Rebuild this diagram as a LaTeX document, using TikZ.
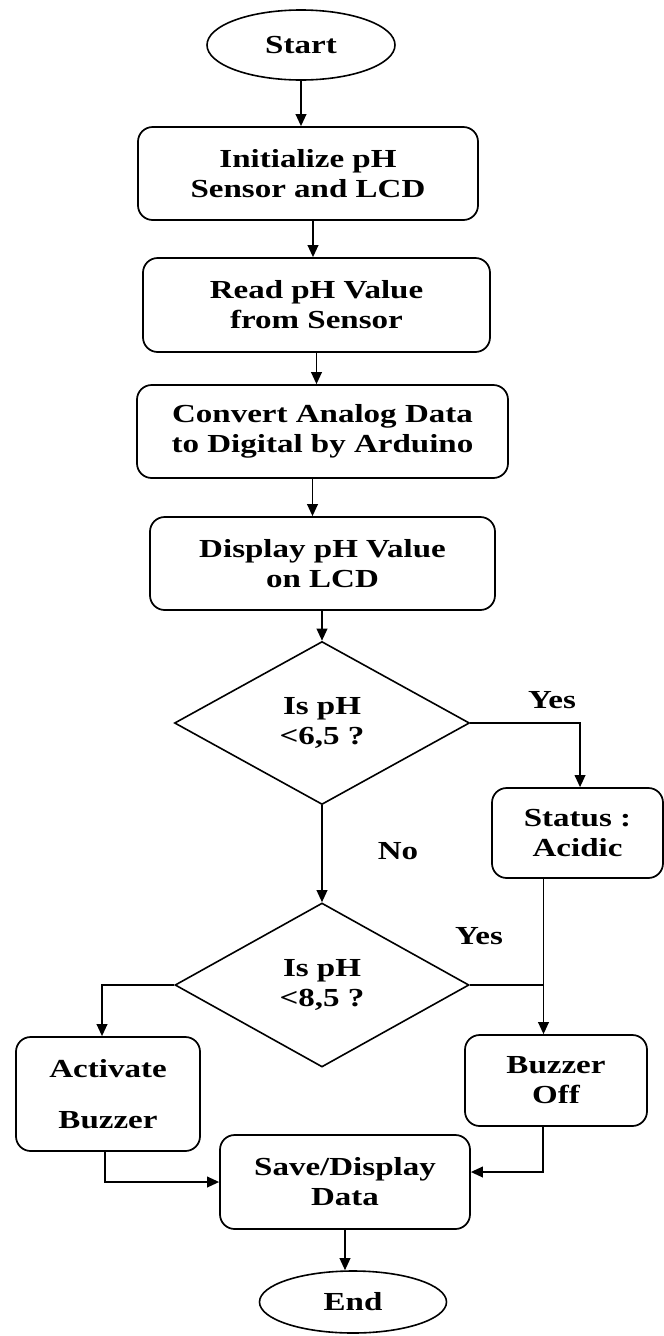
\documentclass[tikz,border=0pt]{standalone}
\usepackage{fontspec}
\setmainfont{Liberation Serif}[FakeStretch=1.27]
\usetikzlibrary{shapes.geometric,arrows.meta,calc}
\begin{document}
\begin{tikzpicture}[x=0.75pt,y=-0.75pt,
  every node/.style={font=\fontsize{19.5}{22.5}\selectfont\bfseries},
  procbox/.style={draw,line width=1.3pt,rounded corners=11pt,align=center,inner sep=0pt},
  term/.style={draw,ellipse,line width=1.2pt,inner sep=0pt},
  decide/.style={draw,diamond,line width=1.2pt,align=center,inner sep=0pt,aspect=1.8},
  arr/.style={line width=1.2pt,-{Triangle[length=9pt,width=8pt]}},
  ln/.style={line width=1.2pt},
  lbl/.style={inner sep=0pt}]
\useasboundingbox (0,0) rectangle (664,1336);

\node[term,minimum width=141pt,minimum height=52.5pt] (Start) at (301,45) {Start};
\node[procbox,minimum width=255pt,minimum height=69.75pt] (Init) at (308,173.5) {Initialize pH\\Sensor and LCD};
\node[procbox,minimum width=260.25pt,minimum height=70.5pt] (Read) at (316.5,305) {Read pH Value\\from Sensor};
\node[procbox,minimum width=278.25pt,minimum height=69.75pt] (Conv) at (322.5,431.5) {Convert Analog Data\\to Digital by Arduino};
\node[procbox,minimum width=258.75pt,minimum height=69.75pt] (Disp) at (322.5,563.5) {Display pH Value\\on LCD};
\node[decide,minimum width=221.25pt,minimum height=122.25pt] (D1) at (322,723) {Is pH\\<6,5 ?};
\node[procbox,minimum width=128.25pt,minimum height=67.5pt] (Stat) at (577.5,833) {Status :\\Acidic};
\node[decide,minimum width=220.5pt,minimum height=123pt] (D2) at (322,985) {Is pH\\<8,5 ?};
\node[procbox,minimum width=138pt,minimum height=85.5pt,font=\fontsize{19.5}{38}\selectfont\bfseries] (Act) at (108,1094) {Activate\\Buzzer};
\node[procbox,minimum width=136.5pt,minimum height=68.25pt] (BOff) at (556,1080.5) {Buzzer\\Off};
\node[procbox,minimum width=187.5pt,minimum height=70.5pt] (Save) at (345,1182) {Save/Display\\Data};
\node[term,minimum width=140.25pt,minimum height=46.5pt] (End) at (353,1302) {End};

\node[lbl] (y1) at (552,700) {Yes};
\node[lbl] (no) at (398,851) {No};
\node[lbl] (y2) at (479,936) {Yes};

\draw[arr] (Start) -- (Start |- Init.north);
\draw[arr] ([xshift=3.75pt]Init.south) -- ([xshift=3.75pt]Init.south |- Read.north);
\draw[arr] (Read.south) -- (Read.south |- Conv.north);
\draw[arr] ([xshift=-7.5pt]Conv.south) -- ([xshift=-7.5pt]Conv.south |- Disp.north);
\draw[arr] (Disp.south -| D1.north) -- (D1.north);
\draw[arr] (D1.east) -| ([xshift=1.9pt]Stat.north);
\draw[arr] (D1.south) -- (D2.north);
\coordinate (j) at ([xshift=-25.5pt]Stat.south);
\draw[arr] (j) -- (j |- BOff.north);
\draw[ln] (D2.east) -- (D2.east -| j);
\draw[arr] (D2.west) -| ([xshift=-4.5pt]Act.north);
\draw[arr] ([xshift=-2.25pt]Act.south) |- (Save.west);
\draw[arr] ([xshift=-9.75pt]BOff.south) |- ([yshift=7.5pt]Save.east);
\draw[arr] (Save.south) -- (Save.south |- End.north);
\end{tikzpicture}
\end{document}
